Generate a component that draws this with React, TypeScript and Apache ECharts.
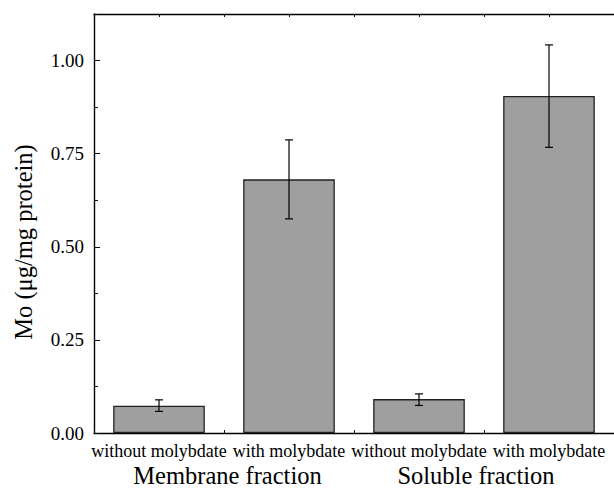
import React, { useEffect, useRef } from "react";
import * as echarts from "echarts";

const categories = ["without molybdate", "with molybdate", "without molybdate", "with molybdate"];
const groups = ["Membrane fraction", "Soluble fraction"];
const means = [0.073, 0.681, 0.091, 0.905];
const errLow = [0.058, 0.575, 0.074, 0.767];
const errHigh = [0.089, 0.787, 0.105, 1.042];
const yTicks = [0, 0.25, 0.5, 0.75, 1.0];

const FONT = "Liberation Serif";

export default function App() {
  const ref = useRef<HTMLDivElement>(null);
  useEffect(() => {
    if (!ref.current) return;
    const chart = echarts.init(ref.current, null, { renderer: "svg" });
    const errData = categories.map((_, i) => [i, errLow[i], errHigh[i]]);
    chart.setOption({
      animation: false,
      backgroundColor: "#ffffff",
      grid: { left: 94, top: 14, right: -1, bottom: 53, containLabel: false },
      xAxis: [
        {
          type: "category",
          data: categories,
          position: "bottom",
          axisLine: { show: true, lineStyle: { color: "#000", width: 1.4 } },
          axisTick: { show: false },
          axisLabel: { interval: 0, margin: 9, fontSize: 18, color: "#000", fontFamily: FONT },
          splitLine: { show: false },
        },
        {
          type: "value",
          min: 0,
          max: 4,
          interval: 0.5,
          position: "bottom",
          axisLine: { show: false },
          axisTick: { show: true, inside: true, length: 3, lineStyle: { color: "#111" } },
          axisLabel: { show: false },
          splitLine: { show: false },
        },
        {
          type: "value",
          min: 0,
          max: 4,
          interval: 0.5,
          position: "top",
          axisLine: { show: true, lineStyle: { color: "#000", width: 1.4 } },
          axisTick: { show: true, inside: true, length: 3, lineStyle: { color: "#111" } },
          axisLabel: { show: false },
          splitLine: { show: false },
        },
        {
          type: "category",
          data: groups,
          position: "bottom",
          axisLine: { show: false },
          axisTick: { show: false },
          axisLabel: {
            interval: 0,
            margin: 30,
            color: "#000",
            formatter: (v: string, i: number) => (i === 0 ? `{a|${v}}` : `{b|${v}}`),
            rich: {
              a: { fontSize: 24.5, fontFamily: FONT, color: "#000", padding: [0, 0, 0, 7] },
              b: { fontSize: 24.5, fontFamily: FONT, color: "#000", padding: [0, 16, 0, 0] },
            },
          },
          splitLine: { show: false },
        },
      ],
      yAxis: [
        {
          type: "value",
          min: 0,
          max: 1.125,
          interval: 0.25,
          axisLine: { show: true, lineStyle: { color: "#000", width: 1.4 } },
          axisTick: { show: true, inside: true, length: 6, lineStyle: { color: "#111" } },
          axisLabel: {
            showMaxLabel: false,
            margin: 10,
            fontSize: 19,
            color: "#000",
            fontFamily: FONT,
            formatter: (v: number) => (yTicks.some((t) => Math.abs(t - v) < 1e-9) ? v.toFixed(2) : ""),
          },
          splitLine: { show: false },
        },
        {
          type: "value",
          min: 0,
          max: 1.125,
          interval: 0.125,
          position: "left",
          axisLine: { show: false },
          axisTick: { show: true, inside: true, length: 4, lineStyle: { color: "#111" } },
          axisLabel: { show: false },
          splitLine: { show: false },
        },
      ],
      graphic: [
        {
          type: "text",
          x: 23,
          y: 242,
          rotation: Math.PI / 2,
          style: {
            text: "Mo (μg/mg protein)",
            fontSize: 24.5,
            fontFamily: FONT,
            fill: "#000",
            align: "center",
            verticalAlign: "middle",
          },
        },
      ],
      series: [
        {
          type: "bar",
          xAxisIndex: 0,
          yAxisIndex: 0,
          data: means,
          barWidth: "70.5%",
          itemStyle: { color: "#9f9f9f", borderColor: "#222", borderWidth: 1.3 },
        },
        {
          type: "custom",
          xAxisIndex: 0,
          yAxisIndex: 0,
          data: errData,
          renderItem: (params: any, api: any) => {
            const x = api.value(0);
            const lo = api.coord([x, api.value(1)]);
            const hi = api.coord([x, api.value(2)]);
            const hw = 4;
            const style = { stroke: "#000", lineWidth: 1.2 };
            return {
              type: "group",
              children: [
                { type: "line", shape: { x1: lo[0], y1: lo[1], x2: hi[0], y2: hi[1] }, style },
                { type: "line", shape: { x1: lo[0] - hw, y1: lo[1], x2: lo[0] + hw, y2: lo[1] }, style },
                { type: "line", shape: { x1: hi[0] - hw, y1: hi[1], x2: hi[0] + hw, y2: hi[1] }, style },
              ],
            };
          },
          z: 10,
        },
      ],
    });
    return () => chart.dispose();
  }, []);
  return (
    <div
      ref={ref}
      style={{ position: "absolute", left: 0, top: 0, width: 614, height: 488 }}
    />
  );
}
